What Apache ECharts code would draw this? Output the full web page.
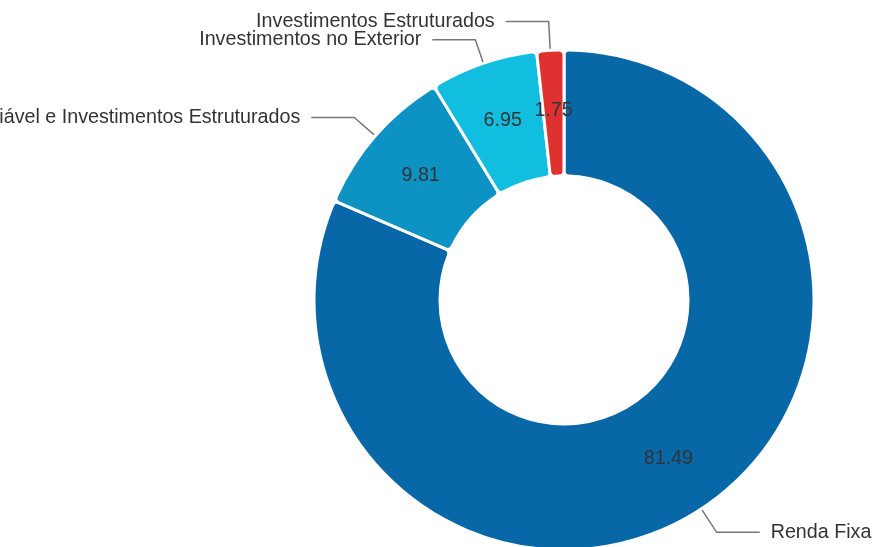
<!DOCTYPE html>
<html>
<head>
<meta charset="utf-8">
<script src="https://cdn.jsdelivr.net/npm/echarts@6/dist/echarts.min.js"></script>
<style>html,body{margin:0;padding:0;background:#fff;}#c{width:875px;height:547px;}</style>
</head>
<body>
<div id="c"></div>
<script>
var categories = ['Renda Fixa', 'Renda Variável e Investimentos Estruturados', 'Investimentos no Exterior', 'Investimentos Estruturados'];
var values = [81.49, 9.81, 6.95, 1.75];
var colors = ['#0867a7', '#0c93c4', '#12bee0', '#e03131'];
var lineLengths = [28, 28, 25, 29];

var outerData = categories.map(function (n, i) {
  return { name: n, value: values[i], labelLine: { length: lineLengths[i] } };
});
var innerData = categories.map(function (n, i) { return { name: n, value: values[i] }; });
var chart = echarts.init(document.getElementById('c'));
chart.setOption({
  animation: false,
  color: colors,
  series: [
    {
      type: 'pie',
      center: [564, 300],
      radius: [124, 250],
      startAngle: 90,
      clockwise: true,
      avoidLabelOverlap: false,
      labelLayout: { hideOverlap: false },
      itemStyle: { borderColor: '#fff', borderWidth: 3, borderRadius: 5 },
      label: { show: true, position: 'outside', formatter: '{b}', color: '#333', fontSize: 19.7, lineHeight: 14, overflow: 'none', distanceToLabelLine: 11, fontFamily: 'Liberation Sans, Arial, sans-serif' },
      labelLine: { show: true, length: 28, length2: 43, lineStyle: { color: '#777', width: 1.5 } },
      data: outerData
    },
    {
      type: 'pie',
      center: [564, 300],
      radius: [124, 250],
      startAngle: 90,
      clockwise: true,
      silent: true,
      avoidLabelOverlap: false,
      labelLayout: { hideOverlap: false },
      itemStyle: { color: 'transparent', borderWidth: 0 },
      label: { show: true, position: 'inside', formatter: '{c}', color: '#333', fontSize: 19.7, fontFamily: 'Liberation Sans, Arial, sans-serif' },
      labelLine: { show: false },
      data: innerData
    }
  ]
});
</script>
</body>
</html>
